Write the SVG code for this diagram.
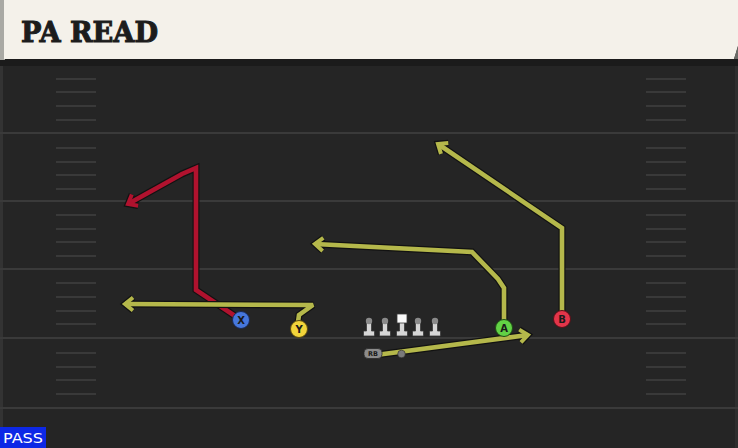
<svg xmlns="http://www.w3.org/2000/svg" width="738" height="448" viewBox="0 0 738 448">
<style>
.yard{stroke:#3a3a3a;stroke-width:2}
.hash{stroke:#393939;stroke-width:2}
.ol{fill:none;stroke:#121212;stroke-width:7;stroke-linejoin:miter;stroke-miterlimit:2}
.rt{fill:none;stroke-width:4.6;stroke-linejoin:miter;stroke-miterlimit:2}
.olive{stroke:#b5b84b}
.red{stroke:#b0122e}
.lbl{font-family:"DejaVu Sans","Liberation Sans",sans-serif;font-weight:bold;font-size:10px;fill:#1a1a1a;text-anchor:middle}
.ln{fill:#d6d6d6;stroke:#3a3a3a;stroke-width:0.8}
.head{fill:#8a8a8a}
</style>
<defs>
<marker id="aol" markerUnits="userSpaceOnUse" viewBox="-15 -15 30 30" markerWidth="30" markerHeight="30" refX="0" refY="0" orient="auto" overflow="visible">
<path d="M-8,-6.5 L0,0 L-8,6.5" fill="none" stroke="#121212" stroke-width="6.5"/>
</marker>
<marker id="aolive" markerUnits="userSpaceOnUse" viewBox="-15 -15 30 30" markerWidth="30" markerHeight="30" refX="0" refY="0" orient="auto" overflow="visible">
<path d="M-8,-6.5 L0,0 L-8,6.5" fill="none" stroke="#b5b84b" stroke-width="4"/>
</marker>
<marker id="ared" markerUnits="userSpaceOnUse" viewBox="-15 -15 30 30" markerWidth="30" markerHeight="30" refX="0" refY="0" orient="auto" overflow="visible">
<path d="M-8,-6.5 L0,0 L-8,6.5" fill="none" stroke="#b0122e" stroke-width="4"/>
</marker>
</defs>
<rect width="738" height="448" fill="#252525"/>
<rect x="0" y="0" width="3" height="448" fill="#333"/>
<rect x="735" y="0" width="3" height="448" fill="#2e2e2e"/>
<g id="field">
<line class="yard" x1="0" y1="133" x2="738" y2="133"/>
<line class="yard" x1="0" y1="201" x2="738" y2="201"/>
<line class="yard" x1="0" y1="269" x2="738" y2="269"/>
<line class="yard" x1="0" y1="338" x2="738" y2="338"/>
<line class="yard" x1="0" y1="408" x2="738" y2="408"/>
<g id="hashL">
<line class="hash" x1="56" y1="79" x2="96" y2="79"/><line class="hash" x1="56" y1="92" x2="96" y2="92"/><line class="hash" x1="56" y1="106" x2="96" y2="106"/><line class="hash" x1="56" y1="120" x2="96" y2="120"/>
<line class="hash" x1="56" y1="148" x2="96" y2="148"/><line class="hash" x1="56" y1="162" x2="96" y2="162"/><line class="hash" x1="56" y1="175" x2="96" y2="175"/><line class="hash" x1="56" y1="189" x2="96" y2="189"/>
<line class="hash" x1="56" y1="215" x2="96" y2="215"/><line class="hash" x1="56" y1="229" x2="96" y2="229"/><line class="hash" x1="56" y1="242" x2="96" y2="242"/><line class="hash" x1="56" y1="256" x2="96" y2="256"/>
<line class="hash" x1="56" y1="283" x2="96" y2="283"/><line class="hash" x1="56" y1="297" x2="96" y2="297"/><line class="hash" x1="56" y1="311" x2="96" y2="311"/><line class="hash" x1="56" y1="324" x2="96" y2="324"/>
<line class="hash" x1="56" y1="353" x2="96" y2="353"/><line class="hash" x1="56" y1="367" x2="96" y2="367"/><line class="hash" x1="56" y1="380" x2="96" y2="380"/><line class="hash" x1="56" y1="394" x2="96" y2="394"/>
</g>
<use href="#hashL" transform="translate(590,0)"/>
</g>
<g id="header">
<rect x="0" y="59" width="738" height="7" fill="#1b1b1b"/>
<rect x="0" y="0" width="5" height="60" fill="#a9a9a4"/>
<polygon points="4,0 738,0 738,46 734,59 4,59" fill="#f4f1ea"/>
<polygon points="738,46 734,59 738,59" fill="#6a6a66"/>
<text x="21" y="42" font-family="DejaVu Serif" font-weight="bold" font-size="27" fill="#1c1c1c" stroke="#1c1c1c" stroke-width="1" textLength="137" lengthAdjust="spacingAndGlyphs">PA READ</text>
</g>
<g id="connectors">
<path class="ol" d="M241,320 L196,290 L196,168 L182,174 L128,204" marker-end="url(#aol)"/>
<path class="rt red" d="M241,320 L196,290 L196,168 L182,174 L128,204" marker-end="url(#ared)"/>
<path class="ol" d="M298,322 L299,315 L313,305 L125,304" marker-end="url(#aol)"/>
<path class="rt olive" d="M298,322 L299,315 L313,305 L125,304" marker-end="url(#aolive)"/>
<path class="ol" d="M504,328 L504,288 L498,279 L472,252 L315,244" marker-end="url(#aol)"/>
<path class="rt olive" d="M504,328 L504,288 L498,279 L472,252 L315,244" marker-end="url(#aolive)"/>
<path class="ol" d="M562,319 L562,228 L438,144" marker-end="url(#aol)"/>
<path class="rt olive" d="M562,319 L562,228 L438,144" marker-end="url(#aolive)"/>
<path class="ol" d="M376,355 L528,335" marker-end="url(#aol)"/>
<path class="rt olive" d="M376,355 L528,335" marker-end="url(#aolive)"/>
</g>
<g id="line">
<g id="lt1"><path class="ln" d="M366.5,322 h5 v9 h3 v5 h-11 v-5 h3 z"/><circle class="head" cx="369" cy="321" r="3.2"/></g>
<use href="#lt1" transform="translate(16,0)"/>
<g id="c"><path class="ln" d="M399.5,322 h5 v9 h3 v5 h-11 v-5 h3 z"/><rect x="397" y="314" width="10" height="9" fill="#fafafa" stroke="#3a3a3a" stroke-width="0.8"/></g>
<use href="#lt1" transform="translate(49,0)"/>
<use href="#lt1" transform="translate(66,0)"/>
</g>
<g id="rb">
<rect x="364" y="348.5" width="18" height="10" rx="4" fill="#8c8c8c" stroke="#2a2a2a" stroke-width="0.8"/>
<text x="373" y="356.3" font-family="DejaVu Sans" font-weight="bold" font-size="6.5" fill="#1a1a1a" text-anchor="middle">RB</text>
</g>
<circle id="dot" cx="401.5" cy="354" r="3.8" fill="#7a7a7a" stroke="#2a2a2a" stroke-width="0.6"/>
<g id="X"><circle cx="241" cy="320" r="8.5" fill="#4677dc" stroke="#1a2a55" stroke-width="1"/><text class="lbl" x="241" y="323.7">X</text></g>
<g id="Y"><circle cx="299" cy="329" r="8.5" fill="#f2d43a" stroke="#5a4a10" stroke-width="1"/><text class="lbl" x="299" y="332.7">Y</text></g>
<g id="A"><circle cx="504" cy="328" r="8.5" fill="#62d245" stroke="#1f4d14" stroke-width="1"/><text class="lbl" x="504" y="331.7">A</text></g>
<g id="B"><circle cx="562" cy="319" r="8.5" fill="#e3354a" stroke="#5a1018" stroke-width="1"/><text class="lbl" x="562" y="322.7">B</text></g>
<g id="pass">
<rect x="0" y="427" width="46" height="21" fill="#0d28e6"/>
<text x="23" y="443" font-family="DejaVu Sans" font-size="14" fill="#ffffff" text-anchor="middle" textLength="40" lengthAdjust="spacingAndGlyphs">PASS</text>
</g>
</svg>
